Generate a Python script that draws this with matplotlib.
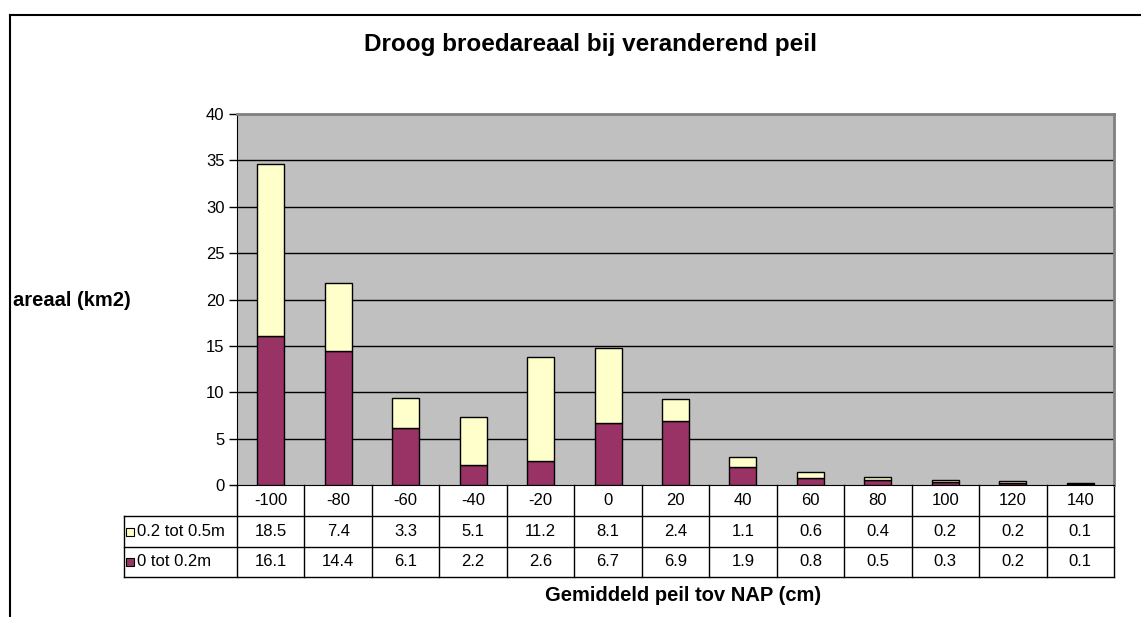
import matplotlib
matplotlib.use("Agg")
import matplotlib.pyplot as plt
from matplotlib.lines import Line2D

plt.rcParams['font.family'] = ['Liberation Sans', 'DejaVu Sans']

categories = ["-100", "-80", "-60", "-40", "-20", "0", "20", "40", "60", "80", "100", "120", "140"]
series_low_name = "0 tot 0.2m"
series_high_name = "0.2 tot 0.5m"
low = [16.1, 14.4, 6.1, 2.2, 2.6, 6.7, 6.9, 1.9, 0.8, 0.5, 0.3, 0.2, 0.1]
high = [18.5, 7.4, 3.3, 5.1, 11.2, 8.1, 2.4, 1.1, 0.6, 0.4, 0.2, 0.2, 0.1]
y_ticks = [0, 5, 10, 15, 20, 25, 30, 35, 40]

title = "Droog broedareaal bij veranderend peil"
ylabel = "areaal (km2)"
xlabel = "Gemiddeld peil tov NAP (cm)"

c_low = "#993366"
c_high = "#FFFFCC"
bg = "#C0C0C0"
FS = 12

W, H = 1141, 617
fig = plt.figure(figsize=(W / 100, H / 100), dpi=100)
L, R, T, B = 237, 1114, 114, 485
ax = fig.add_axes([L / W, 1 - B / H, (R - L) / W, (B - T) / H])
ax.set_facecolor(bg)

x = list(range(len(categories)))
ax.bar(x, low, width=0.4, color=c_low, edgecolor="black", linewidth=1, zorder=3)
ax.bar(x, high, width=0.4, bottom=low, color=c_high, edgecolor="black", linewidth=1, zorder=3)

ax.set_xlim(-0.5, len(categories) - 0.5)
ax.set_ylim(0, 40)
ax.set_yticks(y_ticks)
ax.set_yticklabels([str(v) for v in y_ticks], fontsize=FS)
ax.set_xticks([])
ax.tick_params(axis="y", direction="out", length=6, width=1, pad=3)
for v in y_ticks[1:-1]:
    ax.axhline(v, color="black", linewidth=1, zorder=1)

for s in ["top", "right"]:
    ax.spines[s].set_color("#808080")
    ax.spines[s].set_linewidth(2)
ax.spines["left"].set_color("black")
ax.spines["bottom"].set_color("black")

# data table below the axis
trans = ax.get_xaxis_transform()
ph = B - T
colw = (R - L) / len(categories)
x_lab = -0.5 - (L - 124) / colw
r1 = -31 / ph
r2 = -62 / ph
r3 = -92 / ph
kw = dict(color="black", linewidth=1, transform=trans, clip_on=False)
for yy in (r1, r2, r3):
    ax.plot([x_lab, len(categories) - 0.5], [yy, yy], **kw)
for i in range(len(categories) + 1):
    ax.plot([i - 0.5, i - 0.5], [0, r3], **kw)
ax.plot([x_lab, x_lab], [r1, r3], **kw)

for i, c in enumerate(categories):
    ax.text(i, (0 + r1) / 2, c, transform=trans, ha="center", va="center", fontsize=FS)
    ax.text(i, (r1 + r2) / 2, f"{high[i]:.1f}", transform=trans, ha="center", va="center", fontsize=FS)
    ax.text(i, (r2 + r3) / 2, f"{low[i]:.1f}", transform=trans, ha="center", va="center", fontsize=FS)

x_key = x_lab + 6 / colw
x_txt = x_lab + 13 / colw
for yy, name, col in [((r1 + r2) / 2, series_high_name, c_high), ((r2 + r3) / 2, series_low_name, c_low)]:
    ax.plot([x_key], [yy], marker="s", markersize=5.5, markerfacecolor=col,
            markeredgecolor="black", markeredgewidth=0.8, transform=trans, clip_on=False)
    ax.text(x_txt, yy, name, transform=trans, ha="left", va="center", fontsize=FS)

fig.text(590 / W, 1 - 51 / H, title, ha="center", va="baseline", fontsize=17.5, fontweight="bold")
fig.text(13 / W, 1 - 306 / H, ylabel, ha="left", va="baseline", fontsize=14.5, fontweight="bold")
fig.text(683 / W, 1 - 601 / H, xlabel, ha="center", va="baseline", fontsize=14.5, fontweight="bold")

# outer chart frame
fig.add_artist(Line2D([10 / W, 10 / W], [0, 1 - 15 / H], color="black", linewidth=1.5, transform=fig.transFigure))
fig.add_artist(Line2D([10 / W, 1], [1 - 15 / H, 1 - 15 / H], color="black", linewidth=1.5, transform=fig.transFigure))

fig.savefig("out.png", dpi=100)
